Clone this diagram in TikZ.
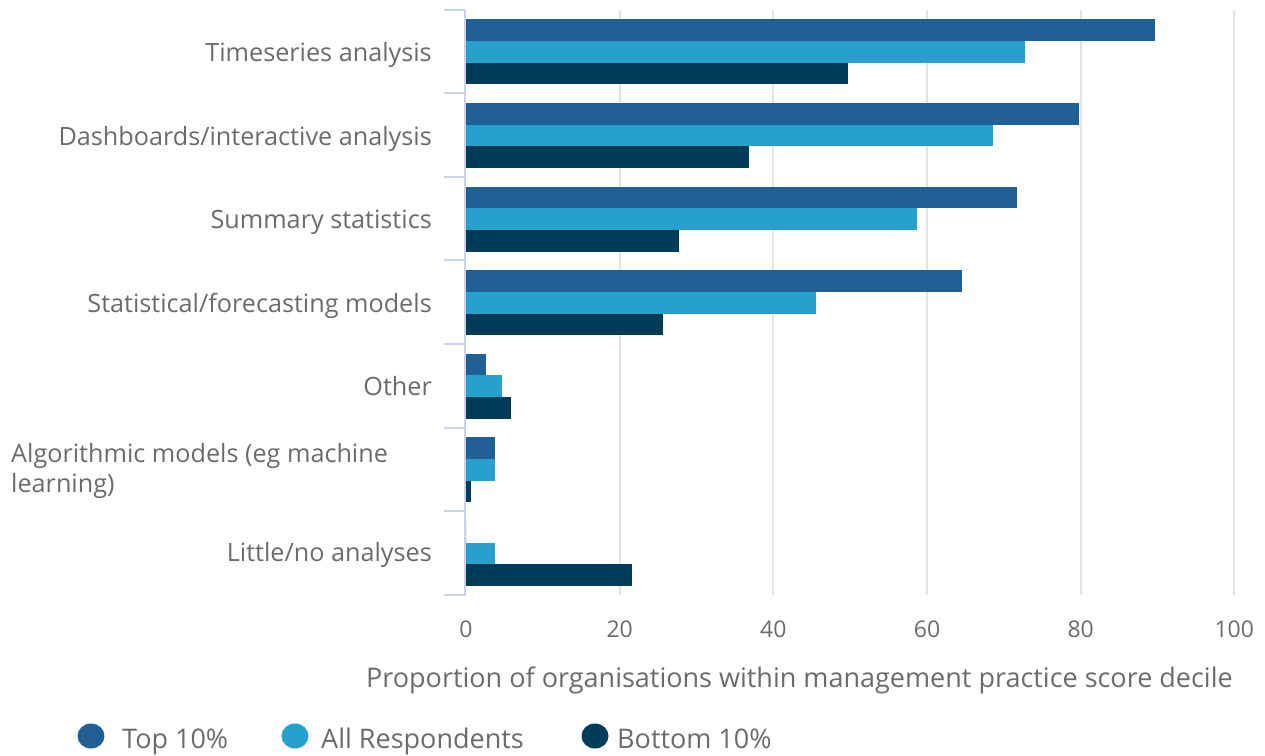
\documentclass[tikz,border=0pt]{standalone}
\usepackage{fontspec}
\setmainfont{Open Sans}
\definecolor{topc}{HTML}{206095}
\definecolor{allc}{HTML}{27A0CC}
\definecolor{botc}{HTML}{003C57}
\definecolor{txt}{HTML}{6B6B6B}
\definecolor{gridc}{HTML}{E3E3E3}
\definecolor{axisc}{HTML}{C9D2E6}
\tikzset{
  catlabel/.style={anchor=base east,text=txt,font=\fontsize{25.2}{30}\selectfont,inner sep=0pt},
  ticklabel/.style={anchor=base,text=txt,font=\fontsize{23}{27}\selectfont,inner sep=0pt},
  titlelabel/.style={anchor=base east,text=txt,font=\fontsize{27}{30}\selectfont,inner sep=0pt},
  legtext/.style={anchor=base west,text=txt,font=\fontsize{27}{31}\selectfont,inner sep=0pt},
  gridline/.style={draw=gridc,line width=2pt},
  axisline/.style={draw=axisc,line width=2pt},
}
\begin{document}
\begin{tikzpicture}[x=1pt,y=-1pt]
\useasboundingbox (0,0) rectangle (1265,755);
% grid
\foreach \v in {20,40,60,80,100}{
  \draw[gridline] ({466+\v*7.683},10) -- ({466+\v*7.683},595);
}
% bars
\foreach \i/\a/\b/\c in {0/89.7/72.7/49.7,1/79.8/68.6/36.8,2/71.7/58.7/27.7,3/64.6/45.6/25.6,4/2.6/4.7/5.9,5/3.8/3.8/0.6,6/0/3.8/21.6}{
  \pgfmathsetmacro\t{9.5+83.6*\i}
  \fill[topc] (466,{\t+9.8}) rectangle ({466+\a*7.683},{\t+31.5});
  \fill[allc] (466,{\t+31.5}) rectangle ({466+\b*7.683},{\t+53.2});
  \fill[botc] (466,{\t+53.2}) rectangle ({466+\c*7.683},{\t+74.9});
}
% axis
\draw[axisline] (465,9.5) -- (465,595.5);
\foreach \i in {0,...,7}{
  \draw[axisline] (444,{9.5+83.6*\i}) -- (465,{9.5+83.6*\i});
}
% category labels
\node[catlabel] (c0) at (432,61.5) {Timeseries analysis};
\node[catlabel] (c1) at (432,145) {Dashboards/interactive analysis};
\node[catlabel] (c2) at (432,228.5) {Summary statistics};
\node[catlabel] (c3) at (432,312) {Statistical/forecasting models};
\node[catlabel] (c4) at (432,395.5) {Other};
\node[catlabel,anchor=base west,align=left] (c5) at (11,492) {Algorithmic models (eg machine\\learning)};
\node[catlabel] (c6) at (432,561.5) {Little/no analyses};
% tick labels
\foreach \v in {0,20,40,60,80,100}{
  \node[ticklabel] (t\v) at ({466+\v*7.683},637) {\v};
}
\node[titlelabel] (title) at (1233,687) {Proportion of organisations within management practice score decile};
% legend
\fill[topc] (91,736) ellipse (13.5pt and 12.5pt);
\node[legtext] (l1) at (122,748) {Top 10\%};
\fill[allc] (295,736) ellipse (13.5pt and 12.5pt);
\node[legtext] (l2) at (321,748) {All Respondents};
\fill[botc] (595,736) ellipse (13.5pt and 12.5pt);
\node[legtext] (l3) at (617,748) {Bottom 10\%};
\end{tikzpicture}
\end{document}
